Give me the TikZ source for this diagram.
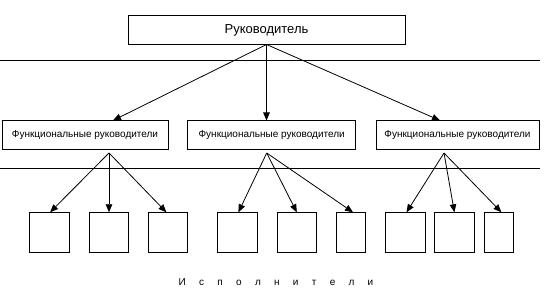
\documentclass[tikz,border=0pt]{standalone}
\usepackage{fontspec}
\setmainfont{Liberation Sans}
\usetikzlibrary{arrows.meta}
\begin{document}
\begin{tikzpicture}[x=1pt,y=-1pt,
  box/.style={draw,line width=0.9pt,inner sep=0pt,outer sep=0pt,minimum height=29pt},
  small/.style={draw,line width=0.9pt,inner sep=0pt,outer sep=0pt,minimum height=40pt},
  arr/.style={line width=0.8pt,-{Triangle[length=8pt,width=6.5pt]}},
  rule/.style={line width=0.9pt}]
\useasboundingbox (0,0) rectangle (546,299);
% top
\node[box,minimum width=277pt,font=\fontsize{13}{15}\selectfont] (top) at (266.5,30) {Руководитель};
% lines
\coordinate (l1a) at (0,60.7); \coordinate (l1b) at (540,60.7);
\coordinate (l2a) at (0,168.3); \coordinate (l2b) at (540,168.3);
\draw[rule] (l1a) -- (l1b);
\draw[rule] (l2a) -- (l2b);
% functional
\node[box,minimum width=166pt,font=\fontsize{10}{12}\selectfont] (f1) at (85,135) {Функциональные руководители};
\node[box,minimum width=168pt,font=\fontsize{10}{12}\selectfont] (f2) at (271.7,135) {Функциональные руководители};
\node[box,minimum width=163pt,font=\fontsize{10}{12}\selectfont] (f3) at (457.5,135) {Функциональные руководители};
% small boxes
\node[small,minimum width=40.3pt] (s1) at (49.1,232.3) {};
\node[small,minimum width=39.3pt] (s2) at (109,232.3) {};
\node[small,minimum width=39pt] (s3) at (167.9,232.3) {};
\node[small,minimum width=40pt] (s4) at (237.4,232.3) {};
\node[small,minimum width=39.6pt] (s5) at (296.8,232.3) {};
\node[small,minimum width=29pt] (s6) at (351,232.3) {};
\node[small,minimum width=40.3pt] (s7) at (405.5,232.3) {};
\node[small,minimum width=40pt] (s8) at (454.4,232.3) {};
\node[small,minimum width=29pt] (s9) at (498.9,232.3) {};
% top arrows
\draw[arr] (top.south) -- ([xshift=28pt]f1.north);
\draw[arr] (top.south) -- ([xshift=-5.2pt]f2.north);
\draw[arr] (top.south) -- ([xshift=-17.5pt]f3.north);
% origins
\coordinate (o1) at ([xshift=24pt,yshift=-3.5pt]f1.south);
\coordinate (o2) at ([xshift=-5pt,yshift=-3.5pt]f2.south);
\coordinate (o3) at ([xshift=-13.5pt,yshift=-3.5pt]f3.south);
\draw[arr] (o1) -- ([xshift=1pt]s1.north);
\draw[arr] (o1) -- (s2.north);
\draw[arr] (o1) -- ([xshift=-1.5pt]s3.north);
\draw[arr] (o2) -- ([xshift=1pt]s4.north);
\draw[arr] (o2) -- (s5.north);
\draw[arr] (o2) -- ([xshift=2pt]s6.north);
\draw[arr] (o3) -- ([xshift=1pt]s7.north);
\draw[arr] (o3) -- (s8.north);
\draw[arr] (o3) -- ([xshift=2.5pt]s9.north);
% label
\node[inner sep=0pt,font=\fontsize{10}{12}\selectfont] (isp) at (276,282) {\spaceskip=13.3pt plus 0pt minus 0pt И с п о л н и т е л и};
\end{tikzpicture}
\end{document}
